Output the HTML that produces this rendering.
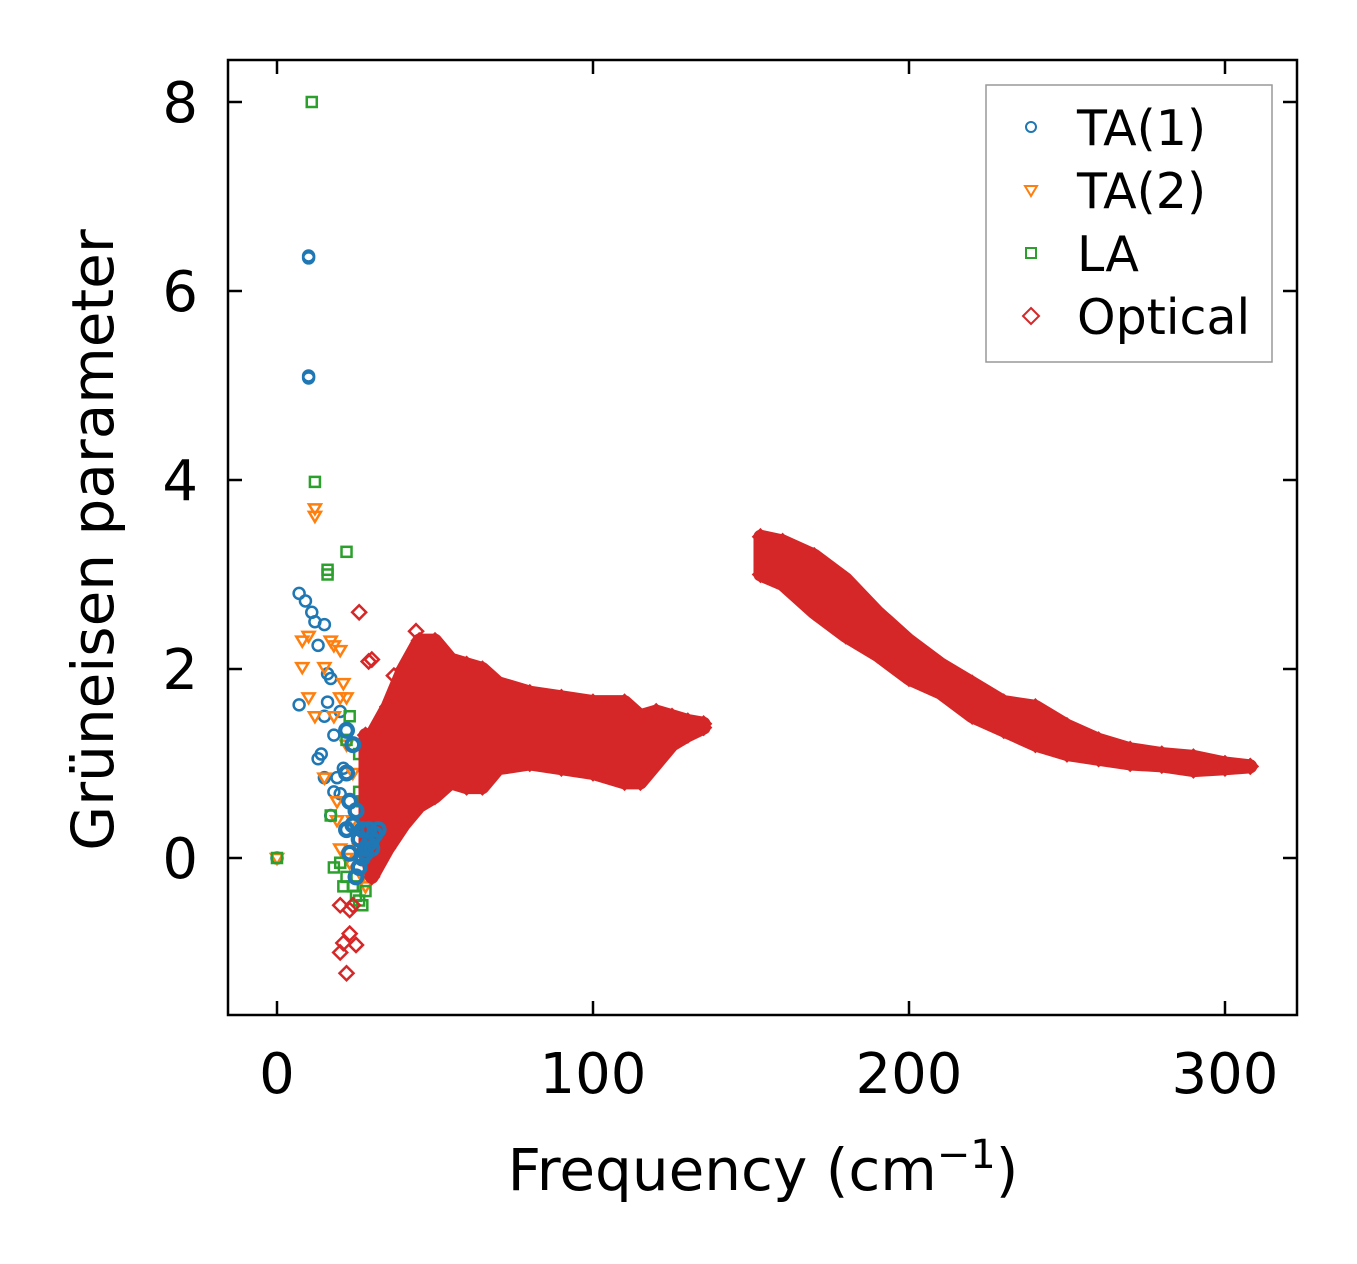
<!DOCTYPE html>
<html><head><meta charset="utf-8"><style>
html,body{margin:0;padding:0;background:#fff;}
svg{display:block;font-family:"DejaVu Sans","Liberation Sans",sans-serif;}
</style></head><body>
<svg id="chart" width="1357" height="1264" viewBox="0 0 1357 1264" xmlns="http://www.w3.org/2000/svg">
<rect x="0" y="0" width="1357" height="1264" fill="#fff"/>
<g id="plot"></g>
<g id="axes"></g>
<text x="763" y="1190" font-size="58" text-anchor="middle">Frequency (cm<tspan font-size="40" dy="-22">−1</tspan><tspan dy="22">)</tspan></text>
<text transform="translate(113,540) rotate(-90)" font-size="58" text-anchor="middle">Grüneisen parameter</text>
<g>
<rect x="986" y="85" width="286" height="277" fill="#fff" stroke="#999" stroke-width="1.5"/>
<circle cx="1031" cy="127" r="5" fill="none" stroke="#1f77b4" stroke-width="2"/>
<text x="1077" y="145" font-size="49">TA(1)</text>
<path d="M1025,186 L1037,186 L1031,196 Z" fill="none" stroke="#ff7f0e" stroke-width="2"/>
<text x="1077" y="208" font-size="49">TA(2)</text>
<rect x="1026" y="248" width="10" height="10" fill="none" stroke="#2ca02c" stroke-width="2"/>
<text x="1077" y="271" font-size="49">LA</text>
<path d="M1031,308 L1039,316 L1031,324 L1023,316 Z" fill="none" stroke="#d62728" stroke-width="2"/>
<text x="1077" y="334" font-size="49">Optical</text>
</g>
</svg>
<script>
const xTicks = [0, 100, 200, 300];
const yTicks = [0, 2, 4, 6, 8];
const optFreq1 = [28,30,35,40,45,50,55,60,65,70,80,90,100,110,115,120,125,130,135];
const optLower1 = [0.1,-0.2,0.1,0.35,0.55,0.65,0.8,0.75,0.75,0.95,1.0,0.95,0.9,0.8,0.8,1.0,1.2,1.3,1.38];
const optUpper1 = [1.3,1.3,1.6,2.0,2.3,2.3,2.1,2.05,2.0,1.85,1.75,1.7,1.65,1.65,1.5,1.55,1.5,1.45,1.42];
const optFreq2 = [153,160,170,180,190,200,210,220,230,240,250,260,270,280,290,300,308];
const optLower2 = [3.0,2.9,2.6,2.35,2.15,1.9,1.75,1.5,1.35,1.2,1.1,1.05,1.0,0.98,0.93,0.95,0.97];
const optUpper2 = [3.4,3.35,3.2,2.95,2.6,2.3,2.05,1.85,1.65,1.6,1.4,1.25,1.15,1.1,1.07,1.0,0.97];
const optOutX = [30,29,26,37,44,20,22,23,25,21,20,23,24,38];
const optOutY = [2.1,2.08,2.6,1.93,2.4,-1.0,-1.22,-0.8,-0.92,-0.9,-0.5,-0.55,-0.5,1.6];
const ta1X = [0,10,10,10,10,7,9,11,12,15,13,16,17,7,16,15,20,14,13,15,18,20,17,22,21,22,23,25,24,26,27,28,29,30,31,32,26,25,27,28,22,24,18,19,23,29,30];
const ta1Y = [0,6.37,6.35,5.1,5.08,2.8,2.72,2.6,2.5,2.47,2.25,1.95,1.9,1.62,1.65,1.5,1.55,1.1,1.05,0.85,0.7,0.68,0.45,0.9,0.95,0.3,0.6,0.5,0.35,0.2,0.0,0.1,0.15,0.2,0.25,0.3,-0.1,-0.2,0.3,0.05,1.35,1.2,1.3,0.85,0.05,0.3,0.1];
const ta2X = [0,12,12,8,10,8,10,12,15,17,18,20,21,22,18,15,19,20,22,23,24,26,27,28,29,30,22,24,20,19];
const ta2Y = [0,3.7,3.62,2.3,2.35,2.02,1.7,1.5,2.02,2.3,2.25,2.2,1.85,1.7,1.5,0.85,0.4,0.1,0.0,-0.05,0.4,0.1,-0.2,-0.3,0.0,0.1,1.2,0.9,1.7,0.6];
const laX = [0,11,12,16,16,22,23,22,26,28,17,18,20,21,22,24,25,26,27,28,30,31,32,33,34,27,26,29];
const laY = [0,8.0,3.98,3.05,3.0,3.24,1.5,1.25,1.1,1.0,0.45,-0.1,-0.05,-0.3,-0.2,-0.3,-0.4,-0.45,-0.5,-0.35,0.3,0.5,0.45,0.25,0.15,0.6,0.7,0.55];

const NS='http://www.w3.org/2000/svg';
const L=228,R=1297,T=60,B=1015;
const sx=v=>277+v*3.16;
const sy=v=>858-v*94.5;
const plot=document.getElementById('plot');
const axes=document.getElementById('axes');
function mk(tag,attrs,parent){const e=document.createElementNS(NS,tag);for(const k in attrs)e.setAttribute(k,attrs[k]);parent.appendChild(e);return e;}

function band(fx,lo,hi,name){
  let d='M'+fx.map((f,i)=>sx(f)+','+sy(hi[i])).join(' L');
  for(let i=fx.length-1;i>=0;i--) d+=' L'+sx(fx[i])+','+sy(lo[i]);
  d+=' Z';
  const p=mk('path',{d:d,fill:'#d62728',stroke:'#d62728','stroke-width':14,'stroke-linejoin':'round'},plot);
  
  
}
function diamond(x,y,name){
  const X=sx(x),Y=sy(y);
  const p=mk('path',{d:`M${X},${Y-7} L${X+7},${Y} L${X},${Y+7} L${X-7},${Y} Z`,fill:'none',stroke:'#d62728','stroke-width':2.5},plot);
  
  
}
ta1X.forEach((x,i)=>{
  const c=mk('circle',{cx:sx(x),cy:sy(ta1Y[i]),r:5.5,fill:'none',stroke:'#1f77b4','stroke-width':2.5},plot);
  
  
});
ta2X.forEach((x,i)=>{
  const X=sx(x),Y=sy(ta2Y[i]);
  const p=mk('path',{d:`M${X-6},${Y-4} L${X+6},${Y-4} L${X},${Y+6} Z`,fill:'none',stroke:'#ff7f0e','stroke-width':2.5},plot);
  
  
});
laX.forEach((x,i)=>{
  const r=mk('rect',{x:sx(x)-5,y:sy(laY[i])-5,width:10,height:10,fill:'none',stroke:'#2ca02c','stroke-width':2.5},plot);
  
  
});
band(optFreq1,optLower1,optUpper1,'optical-band-low');
band(optFreq2,optLower2,optUpper2,'optical-band-high');
optFreq1.forEach((f,i)=>{diamond(f,optUpper1[i],'optical-point');diamond(f,optLower1[i],'optical-point');});
optFreq2.forEach((f,i)=>{diamond(f,optUpper2[i],'optical-point');diamond(f,optLower2[i],'optical-point');});
optOutX.forEach((x,i)=>diamond(x,optOutY[i],'optical-point'));
ta1X.forEach((x,i)=>{ if(x>=22){
  const c=mk('circle',{cx:sx(x),cy:sy(ta1Y[i]),r:6.5,fill:'none',stroke:'#1f77b4','stroke-width':4},plot);
  
  
}});

const frame=mk('rect',{x:L,y:T,width:R-L,height:B-T,fill:'none',stroke:'#000','stroke-width':2.5},axes);


xTicks.forEach(v=>{
  const X=sx(v);
  const t1=mk('line',{x1:X,y1:B,x2:X,y2:B-14,stroke:'#000','stroke-width':2.5},axes);
  
  
  const t2=mk('line',{x1:X,y1:T,x2:X,y2:T+14,stroke:'#000','stroke-width':2.5},axes);
  
  
  const tx=mk('text',{x:X,y:1093,'font-size':56,'text-anchor':'middle'},axes);
  tx.textContent=v;
  
  
});
yTicks.forEach(v=>{
  const Y=sy(v);
  const t1=mk('line',{x1:L,y1:Y,x2:L+14,y2:Y,stroke:'#000','stroke-width':2.5},axes);
  
  
  const t2=mk('line',{x1:R,y1:Y,x2:R-14,y2:Y,stroke:'#000','stroke-width':2.5},axes);
  
  
  const tx=mk('text',{x:198,y:Y+20,'font-size':56,'text-anchor':'end'},axes);
  tx.textContent=v;
  
  
});
</script>
</body></html>
